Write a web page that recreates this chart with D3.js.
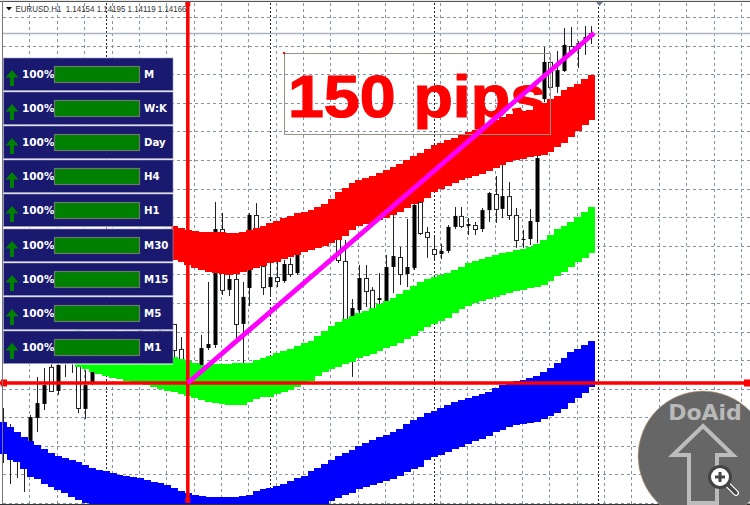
<!DOCTYPE html>
<html><head><meta charset="utf-8">
<script src="https://cdn.jsdelivr.net/npm/d3@7/dist/d3.min.js"></script>
<style>html,body{margin:0;padding:0;background:#fff;overflow:hidden}svg{display:block}</style>
</head><body><div id="c"></div>
<script>
// All price values are pips above the 1.12666 reference level (150 pips below 1.14166).
const headerText = "EURUSD.H1  1.14154 1.14195 1.14119 1.14166";
const annotation = "150 pips";
const timeframes = ["M","W:K","Day","H4","H1","M30","M15","M5","M1"];
const strength = [100,100,100,100,100,100,100,100,100];

const open = [-18,-21,-24.4,-26.6,-14.6,-8.6,-0.9,-3.4,7.7,16.3,16.3,-10.7,-0.9,4.7,10.7,17.6,14.1,19.3,16.3,21.9,17.6,21.9,18.4,22.7,16.3,14.1,9.9,7.3,6.4,15,16.7,66,39.9,44.6,25.3,36.9,72,57,41.1,45.4,43.7,51,46.7,54.9,61.3,69,61.3,74.1,76.3,52.7,26.1,32.1,45,39.4,32.1,36.4,49.7,54.4,46.7,49.7,76.3,64.3,62.6,55.3,56.6,66.9,71.6,67.3,68.1,66,74.1,81.4,74.6,80.1,72,61.3,61.7,69.4,96.4,137.6,126.9,134.1,144.9,142.7,145.7,148.3,148.8];
const close = [-28.7,-32.6,-30.9,-33,-26.6,-15,-9,6.9,-3.4,9,10.7,10.7,-11.1,0,14.1,13.3,20.1,15,20.6,15.9,22.7,16.7,23.6,19.3,24.4,25.3,14.6,-0.9,1.3,7.7,15,16.3,66,39.9,44.6,25.3,40.7,72,50.1,41.1,45.4,43.7,51,47.1,67.7,59.1,72,61.3,62.1,63.4,52.3,27.4,31.3,45,39.9,35.6,34.3,49.7,54,46.7,49.3,77.6,64.7,57.4,55.3,56.6,66.9,71.6,67.3,67.7,66,74.1,81,74.6,80.1,72,61.3,61.7,69,121.7,137.6,126.9,133.7,144.4,143.1,146.6,150];
const high = [-10.7,-17.6,-22.3,-24.4,-13.7,2.6,6.4,9.9,14.1,18.4,19.3,14.1,5.6,9.9,16.3,20.6,22.7,21.9,23.6,24.9,26.1,24.4,27,26.1,27,25.3,19.7,8.1,7.3,20.6,43.3,77.6,72.9,48.4,46.7,43.3,72.9,77.1,54.9,52.3,51.9,52.7,53.6,57,70.7,72.4,73.3,75.4,77.6,72,61.3,36,50.6,50.6,41.1,47.1,54.9,72,58.3,70.3,77.1,78.4,66.9,62.6,59.6,67.7,75.4,75.4,70.7,69,75,81.9,88.7,93.4,86.1,75,65.6,74.6,99.9,144,139.3,142.3,152.1,152.6,146.6,153,152.9];
const low = [-34.3,-43.3,-40.7,-46.7,-28.7,-21,-11.6,-3.9,-5.1,2.6,4.3,-12.9,-15.4,-0.9,9,9.9,11.6,10.7,12,12.4,13.3,12,14.1,13.3,10.7,9,9,-2.1,-0.4,6.4,14.1,15,37.7,37.3,19.3,7.7,33,54.9,37.7,37.7,41.1,42.9,45.4,46.3,57.9,57.9,58.7,59.6,60.9,51.4,24.4,2.6,29.1,32.6,30.4,32.6,33,38.6,42,41.1,48.4,63.4,53.6,53.1,53.1,55.7,66,66.4,63.4,63.4,64.7,69,68.6,70.7,69.9,57.9,57.9,59.1,60,120.4,120,124.3,133.3,141.9,135,140.6,145.3];

const redStart = 25;
const redTop = [67.3,66.4,65.6,65.1,64.7,64.7,64.7,64.7,64.3,64.3,64.7,65.6,66.4,67.3,68.6,69.4,70.7,71.6,72.9,73.3,74.1,75.4,76.7,78.9,81.9,83.6,85.7,87,87.9,88.7,90,91.3,92.6,93.9,95.6,97.3,98.6,100.3,102,102.9,104.1,105,106.3,107.6,108.4,109.7,111,112.7,114,115.3,116.1,116.6,117,118.3,120,121.7,123,125.6,126.9,128.1,130.3,132];
const redBottom = [52.7,51.9,50.6,49.3,48.4,47.6,47.1,46.7,46.3,46.7,47.6,48.4,49.3,50.1,51.4,51.9,53.1,54,54.9,56.1,57,57.9,58.7,60,61.3,63,65.6,67.3,68.1,68.6,69.9,70.7,72,73.3,75,76.7,77.6,79.3,81.9,83.1,84.4,85.7,87,87.9,88.7,89.6,90.9,92.1,93.4,94.7,95.6,96,96.9,97.3,97.7,99,101.1,102.9,105.4,108,110.6,112.7];

const greenStart = 11;
const greenTop = [22.7,21.9,21,20.1,19.3,18.9,18,17.1,16.3,15.4,14.6,13.7,12.9,12,11.1,10.3,9.4,8.6,7.7,7.7,8.1,8.1,8.1,8.6,8.6,8.6,9.9,10.7,11.6,12.9,13.7,14.6,15.9,17.1,18,20.1,22.3,24.4,26.1,27.4,28.7,30,30.9,32.1,33.9,35.1,36.4,38.1,39.9,41.6,43.3,44.6,45.4,46.3,47.1,48.4,49.7,51.4,52.3,53.1,54,54.9,55.7,56.1,57,57.4,58.3,59.6,61.3,63.4,66,67.3,69,71.1,73.3,75.4];
const greenBottom = [6.9,6,4.7,3.9,3,2.1,1.7,0.9,0.4,-0.4,-0.9,-1.7,-2.6,-3.4,-3.9,-4.7,-5.6,-6.4,-7.3,-8.1,-8.6,-9,-9.4,-9.4,-9.4,-8.1,-6.9,-6,-6,-4.7,-3.9,-3,-1.7,-0.4,0.9,3,4.7,6,6.9,8.1,9,10.7,11.6,12.4,13.7,15,15.9,17.1,18.9,20.1,22.3,24,25.3,26.6,27.9,30,31.7,33,34.3,35.1,36,36.9,37.7,38.6,39.4,39.9,40.7,41.1,42,43.7,45.9,47.6,49.7,51.9,53.6,55.7];

const blueTop = [-16.7,-18.9,-21,-23.1,-24.9,-26.6,-28.3,-30,-31.3,-32.1,-33,-33.9,-35.1,-36.4,-37.3,-37.7,-38.6,-39.4,-39.9,-40.3,-40.7,-41.6,-42.4,-42.9,-43.7,-45,-46.3,-47.1,-48,-48.4,-48.9,-48.9,-48.9,-48.9,-48.9,-48.4,-48,-46.3,-45.4,-45,-44.1,-43.3,-42,-40.7,-39.9,-37.7,-36.4,-34.7,-33,-31.3,-30,-28.7,-27,-25.7,-24.4,-23.1,-22.3,-21,-19.7,-17.6,-15.9,-14.6,-12.9,-12,-10.7,-9.4,-8.1,-7.3,-6.4,-5.6,-4.7,-3.9,-2.1,-0.9,0,0.9,1.3,2.1,3,4.7,6.4,8.6,10.7,13.3,14.6,16.3,18];
const blueBottom = [-30.4,-33,-33.9,-36.9,-40.3,-41.1,-43.3,-44.6,-45.9,-47.1,-48.9,-50.1,-51.4,-52.3,-54,-55,-56,-57,-57.5,-58,-59,-59.5,-60,-61,-62,-62.5,-63,-64,-64.5,-65,-65,-65,-65,-65,-65,-65,-64,-63.5,-63,-62.5,-62,-61,-60,-59,-58,-56.5,-54,-51.9,-50.6,-49.3,-48,-47.1,-45.4,-44.6,-43.7,-42.9,-42,-41.1,-39.9,-38.1,-36.9,-36,-33,-31.7,-30.9,-29.6,-28.3,-27.4,-26.1,-24.9,-24,-22.7,-21,-20.1,-18.9,-18,-17.6,-17.1,-16.7,-15.4,-14.1,-12.9,-11.1,-8.6,-6.4,-4.3,-1.7];

const gridLevels = [156.9,144.6,132.3,120.1,107.8,95.6,83.3,71,58.8,46.5,34.3,22,9.8,-2.5,-14.7,-27,-39.2,-51.5];
const gridBars = [4,8,12,16,20,24,28,32,36,40,44,48,52,56,60,64,68,72,76,80,84,88,92,96,100,104,108];
const separatorBars = [15,39,63,87];
const currentLevel = 150;
const baseLevel = 0;
const anchorBar = 27;
const trendBars = [27,86.4];
const trendPips = [0,150];

const W = 750, H = 505;
const x = d3.scaleLinear().domain([0,86]).range([3.1,591.4]);
const y = d3.scaleLinear().domain([164.14,-52.29]).range([0,H]);
const pct = d3.scaleLinear().domain([0,100]).range([0,85]);
const barW = x(1)-x(0);

const svg = d3.select("#c").append("svg").attr("width",W).attr("height",H).attr("viewBox",`0 0 ${W} ${H}`);
svg.append("rect").attr("width",W).attr("height",H).attr("fill","#fff");

// grid
const gridColor = "#8494a8";
svg.append("g").selectAll("line").data(gridLevels).join("line")
  .attr("x1",3).attr("x2",W).attr("y1",d=>Math.round(y(d))+.5).attr("y2",d=>Math.round(y(d))+.5)
  .attr("stroke",gridColor).attr("stroke-dasharray","3 3");
svg.append("g").selectAll("line").data(gridBars).join("line")
  .attr("y1",3).attr("y2",H).attr("x1",d=>Math.round(x(d))-.5).attr("x2",d=>Math.round(x(d))-.5)
  .attr("stroke",gridColor).attr("stroke-dasharray","3 3");
svg.append("g").selectAll("line").data(separatorBars).join("line")
  .attr("y1",3).attr("y2",H).attr("x1",d=>Math.round(x(d))+.5).attr("x2",d=>Math.round(x(d))+.5)
  .attr("stroke","#222").attr("stroke-dasharray","2 2");

// current price line
svg.append("line").attr("x1",3).attr("x2",W).attr("y1",y(currentLevel)+.5).attr("y2",y(currentLevel)+.5)
  .attr("stroke","#aab4c2").attr("stroke-width",1.5);

// candles
const bars = d3.range(open.length).map(i=>({i,o:open[i],c:close[i],h:high[i],l:low[i]}));
const cg = svg.append("g");
cg.selectAll("line").data(bars).join("line")
  .attr("x1",d=>Math.round(x(d.i))+.5).attr("x2",d=>Math.round(x(d.i))+.5)
  .attr("y1",d=>y(d.h)).attr("y2",d=>y(d.l)).attr("stroke","#222");
cg.selectAll("rect").data(bars).join("rect")
  .attr("x",d=>Math.round(x(d.i))-1.5).attr("width",4)
  .attr("y",d=>y(Math.max(d.o,d.c))+(d.c>d.o?.5:0))
  .attr("height",d=>Math.max(1,Math.abs(y(d.o)-y(d.c))))
  .attr("fill",d=>d.c>d.o?"#fff":"#000").attr("stroke",d=>d.c>d.o?"#222":"none");

// bands
function band(top,bottom,start,color){
  const rows = top.map((t,k)=>({i:k+start,t,b:bottom[k]}));
  svg.append("g").attr("shape-rendering","crispEdges").selectAll("rect").data(rows).join("rect")
    .attr("x",d=>x(d.i)-barW/2).attr("width",barW+.6)
    .attr("y",d=>y(d.t)).attr("height",d=>y(d.b)-y(d.t)).attr("fill",color);
}
band(redTop,redBottom,redStart,"#ff0000");
band(greenTop,greenBottom,greenStart,"#00ff00");
band(blueTop,blueBottom,0,"#0000ff");

// annotation text + box
svg.append("text").text(annotation).attr("x",288).attr("y",117)
  .attr("font-family","'Liberation Sans',Arial,sans-serif").attr("font-weight",700)
  .attr("font-size",60).attr("textLength",258).attr("lengthAdjust","spacingAndGlyphs")
  .attr("fill","#ff0000").attr("stroke","#ff0000").attr("stroke-width",1.2);
svg.append("rect").attr("x",284.5).attr("y",53.5).attr("width",266).attr("height",81)
  .attr("fill","none").attr("stroke","#9c8f84");
svg.append("rect").attr("x",283).attr("y",52).attr("width",2).attr("height",2).attr("fill","#ff0000");

// level lines
const xv = x(anchorBar), yl = y(baseLevel);
svg.append("line").attr("x1",xv).attr("x2",xv).attr("y1",3).attr("y2",501).attr("stroke","#ff0000").attr("stroke-width",3.5);
svg.append("line").attr("x1",0).attr("x2",W).attr("y1",yl).attr("y2",yl).attr("stroke","#ff0000").attr("stroke-width",3.5);
[[1,yl-3.5],[744,yl-3.5],[xv-2.5,1],[xv-2.5,498]].forEach(([a,b],k)=>{
  svg.append("rect").attr("x",a).attr("y",b).attr("width",k<2?6:5).attr("height",k<2?7:5).attr("fill","#ff0000");
});
// trend line
svg.append("line").attr("x1",x(trendBars[0])).attr("y1",y(trendPips[0])).attr("x2",x(trendBars[1])).attr("y2",y(trendPips[1]))
  .attr("stroke","#ff00ff").attr("stroke-width",4.8);

// frame
svg.append("rect").attr("x",0).attr("y",0).attr("width",W).attr("height",1).attr("fill","#e8e8e8");
svg.append("rect").attr("x",0).attr("y",1).attr("width",W).attr("height",1).attr("fill","#555");
svg.append("rect").attr("x",2).attr("y",1).attr("width",1).attr("height",H).attr("fill","#777");
svg.append("rect").attr("x",0).attr("y",504).attr("width",W).attr("height",1).attr("fill","#333");
svg.append("path").attr("d","M596 2h7l-3.5 4z").attr("fill","#6f7f90");

// header
svg.append("path").attr("d","M6 7h6l-3 3.5z").attr("fill","#111");
svg.append("text").text(headerText).attr("x",15.5).attr("y",12)
  .attr("font-family","'Liberation Sans',sans-serif").attr("font-size",9.5)
  .attr("textLength",171).attr("lengthAdjust","spacingAndGlyphs")
  .attr("fill","#333").style("white-space","pre");

// panels
const pitch = 34.1;
const panels = svg.append("g").selectAll("g").data(timeframes).join("g")
  .attr("transform",(d,i)=>`translate(3.5,${Math.round(58+i*pitch)})`);
panels.append("rect").attr("x",-.5).attr("y",-.5).attr("width",170).attr("height",34).attr("fill","#fff");
panels.append("rect").attr("width",169.5).attr("height",32.5).attr("fill","#191970").attr("stroke","#9a9ac0").attr("stroke-width",.6);
panels.append("path").attr("d","M8.5 12l6.5 7.5h-4.5V28h-4V19.5H2Z").attr("fill","#008000");
panels.append("text").text((d,i)=>strength[i]+"%").attr("x",18.5).attr("y",20)
  .attr("font-family","'DejaVu Sans',sans-serif").attr("font-weight",700).attr("font-size",10.5).attr("fill","#fff");
panels.append("rect").attr("x",51).attr("y",8.5).attr("width",(d,i)=>pct(strength[i])).attr("height",16)
  .attr("fill","#008000").attr("stroke","#6a7a6a").attr("stroke-width",1.2);
panels.append("text").text(d=>d).attr("x",140.5).attr("y",20)
  .attr("font-family","'DejaVu Sans',sans-serif").attr("font-weight",700).attr("font-size",10.2).attr("fill","#fff");

// logo
const logo = svg.append("g");
logo.append("circle").attr("cx",703).attr("cy",456).attr("r",65).attr("fill","#666").attr("stroke","#c9a27a").attr("stroke-width",.6);
logo.append("text").text("DoAid").attr("x",705).attr("y",420).attr("text-anchor","middle")
  .attr("font-family","'DejaVu Sans',sans-serif").attr("font-weight",700).attr("font-size",22).attr("fill","#b9b9b9");
logo.append("path").attr("d","M703 426L733 455H717V503H689V455H673Z").attr("fill","none").attr("stroke","#bcbcbc").attr("stroke-width",4);
logo.append("line").attr("x1",727).attr("y1",484).attr("x2",736).attr("y2",493).attr("stroke","#fff").attr("stroke-width",6).attr("stroke-linecap","round");
logo.append("line").attr("x1",727).attr("y1",484).attr("x2",736).attr("y2",493).attr("stroke","#444").attr("stroke-width",3.5).attr("stroke-linecap","round");
logo.append("circle").attr("cx",720).attr("cy",477).attr("r",10.5).attr("fill","#fff").attr("stroke","#444").attr("stroke-width",3);
logo.append("path").attr("d","M720 472v10M715 477h10").attr("stroke","#444").attr("stroke-width",3);
</script></body></html>
